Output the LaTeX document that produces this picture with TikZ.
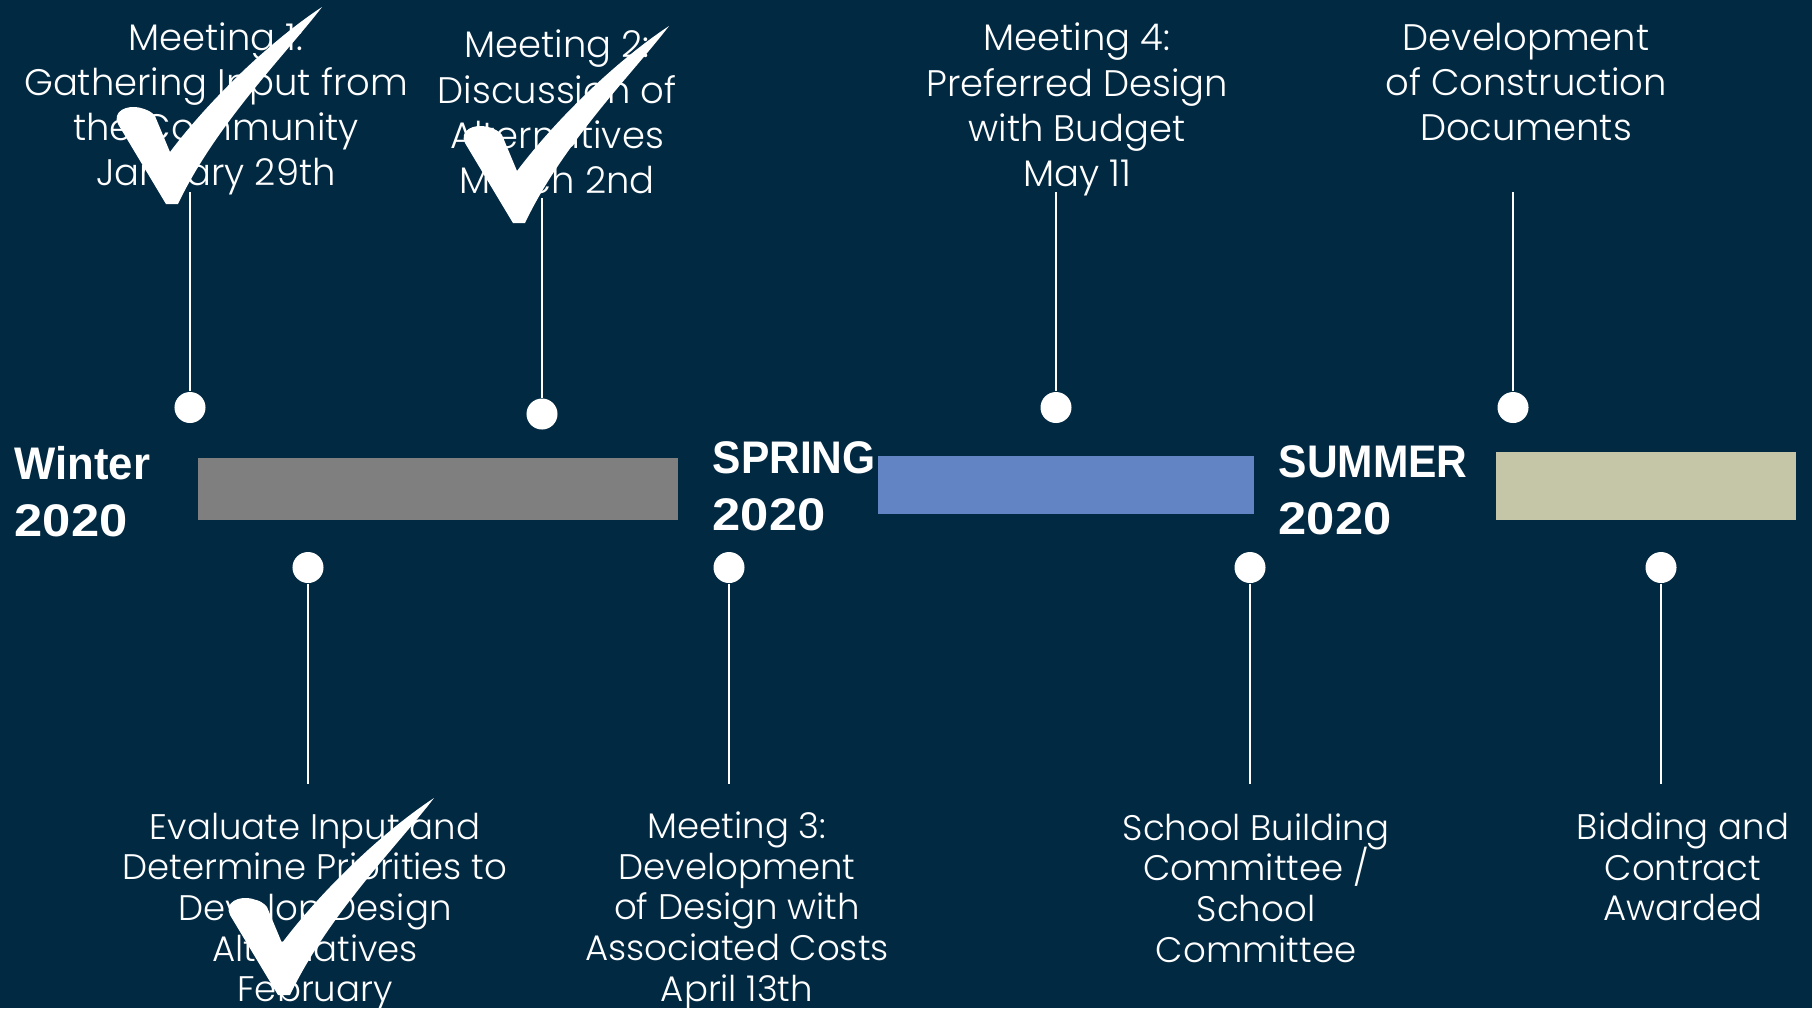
\documentclass[tikz,border=0pt]{standalone}
\usepackage{fontspec}
\setmainfont{Poppins Light}
\newfontfamily\seasonfont{Liberation Sans}
\definecolor{bgnavy}{HTML}{022942}
\definecolor{bargray}{HTML}{7F7F7F}
\definecolor{barblue}{HTML}{6283C4}
\definecolor{barkhaki}{HTML}{C5C6A8}
\setlength{\lineskiplimit}{-30pt}
\newcommand{\sword}[2][0.93]{\scalebox{#1}[1]{#2}}
\newcommand{\snum}[1]{\scalebox{1.11}[1]{#1}}
\tikzset{
  dot/.style={circle, fill=white, draw=none, minimum size=0.31cm, inner sep=0pt},
  conn/.style={draw=white, line width=0.5pt},
  toplbl/.style={text=white, align=center, inner sep=0pt, font=\fontsize{10.5}{12.85}\selectfont},
  botlbl/.style={text=white, align=center, inner sep=0pt, font=\fontsize{10.1}{11.55}\selectfont},
  season/.style={text=white, align=left, inner sep=0pt, anchor=west, font=\seasonfont\bfseries\fontsize{13}{16.2}\selectfont},
  checkmark/.pic={
    \fill[white] (0,0) -- (-48,-80) .. controls (-54,-92) and (-40,-100) .. (-25,-96)
      .. controls (-18,-94) and (-14,-92) .. (-11,-88) -- (4,-52)
      .. controls (40,-100) and (100,-160) .. (156,-197)
      .. controls (120,-150) and (50,-80) .. (12,0) -- cycle;
  }
}
\begin{document}
\begin{tikzpicture}[x=0.01cm,y=-0.01cm]
\fill[bgnavy] (0,0) rectangle (1812,1008);
\useasboundingbox (0,0) rectangle (1812,1008);

% bars
\fill[bargray] (198,458) rectangle (678,520);
\fill[barblue] (878,456) rectangle (1254,514);
\fill[barkhaki] (1496,452) rectangle (1796,520);

% season labels
\node[season] (winter) at (14,492) {\sword[0.955]{Winter}\\\snum{2020}};
\node[season] (spring) at (712,486) {\sword{SPRING}\\\snum{2020}};
\node[season] (summer) at (1278,490) {\sword{SUMMER}\\\snum{2020}};

% top labels
\node[toplbl] (t1) at (216,109) {Meeting 1:\\Gathering Input from\\the Community\\January 29th};
\node[toplbl] (t2) at (557,112) {Meeting 2:\\Discussion of\\Alternatives\\March 2nd};
\node[toplbl] (t3) at (1077,109.5) {Meeting 4:\\Preferred Design\\with Budget\\May 11};
\node[toplbl] (t4) at (1526,82) {Development\\of Construction\\Documents};

% bottom labels
\node[botlbl] (b1) at (315,912) {Evaluate Input and\\Determine Priorities to\\Develop Design\\Alternatives\\February};
\node[botlbl] (b2) at (737,911) {Meeting 3:\\Development\\of Design with\\Associated Costs\\April 13th};
\node[botlbl] (b3) at (1256,888) {School Building\\Committee /\\School\\Committee};
\node[botlbl] (b4) at (1683,867) {Bidding and\\Contract\\Awarded};

% dots
\node[dot] (d1) at (190,407.5) {};
\node[dot] (d2) at (542,414) {};
\node[dot] (d3) at (1056,407.5) {};
\node[dot] (d4) at (1513,407.5) {};
\node[dot] (e1) at (308,567.5) {};
\node[dot] (e2) at (729,567.5) {};
\node[dot] (e3) at (1250,567.5) {};
\node[dot] (e4) at (1661,567.5) {};

% connector ends
\coordinate (c1) at (190,192);
\coordinate (c2) at (542,198);
\coordinate (c3) at (1056,192);
\coordinate (c4) at (1513,192);
\coordinate (f1) at (308,784);
\coordinate (f2) at (729,784);
\coordinate (f3) at (1250,784);
\coordinate (f4) at (1661,784);

\draw[conn] (d1) -- (c1);
\draw[conn] (d2) -- (c2);
\draw[conn] (d3) -- (c3);
\draw[conn] (d4) -- (c4);
\draw[conn] (e1) -- (f1);
\draw[conn] (e2) -- (f2);
\draw[conn] (e3) -- (f3);
\draw[conn] (e4) -- (f4);

% check marks
\pic at (166,204) {checkmark};
\pic at (513,223) {checkmark};
\pic at (278,995) {checkmark};
\end{tikzpicture}
\end{document}
